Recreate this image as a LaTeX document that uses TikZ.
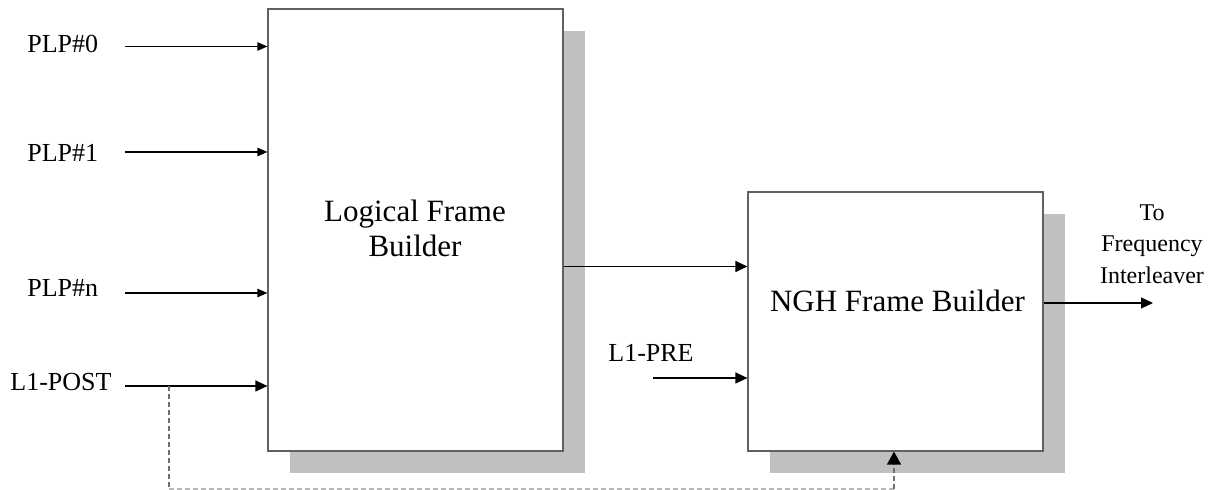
\documentclass[tikz,border=0pt]{standalone}
\usepackage{fontspec}
\setmainfont{Liberation Serif}
\usetikzlibrary{arrows.meta,shadows}
\definecolor{shadowgray}{HTML}{C0C0C0}
\definecolor{boxline}{HTML}{606060}
\definecolor{dashdark}{HTML}{707070}
\definecolor{dashlight}{HTML}{B8B8B8}
\begin{document}
\begin{tikzpicture}[x=0.5pt,y=-0.5pt,
  blockbox/.style={draw=boxline, line width=0.6pt, fill=white, inner sep=0pt,
    minimum width=147.5pt,
    drop shadow={shadow xshift=11pt, shadow yshift=-11pt, fill=shadowgray, opacity=1}},
  arr/.style={-{Triangle[length=6pt,width=5.5pt]}, line width=0.6pt, black},
  inarr/.style={-{Triangle[length=5pt,width=4.2pt]}, line width=0.6pt, black},
  lbl/.style={font=\fontsize{13}{15}\selectfont, inner sep=0pt, anchor=base west},
  bigtxt/.style={font=\fontsize{15.5}{17.5}\selectfont, inner sep=0pt, align=center},
  dashline/.style={line width=0.6pt, dash pattern=on 2.5pt off 1.5pt}
]
\useasboundingbox (0,0) rectangle (1217,490);

% blocks
\node[blockbox, minimum height=221pt] (lfb) at (415.5,230) {};
\node[blockbox, minimum height=129.5pt] (ngh) at (895.5,321.5) {};
\node[bigtxt] (lfbt) at (415,228) {Logical Frame\\Builder};
\node[bigtxt] (nght) at (897.5,301) {NGH Frame Builder};

% input labels
\node[lbl] (p0) at (27,53) {PLP\#0};
\node[lbl] (p1) at (27,162) {PLP\#1};
\node[lbl] (pn) at (27,297) {PLP\#n};
\node[lbl] (post) at (10,391) {L1-POST};
\node[lbl] (pre) at (608,362) {L1-PRE};
\node[font=\fontsize{12}{15.75}\selectfont, inner sep=0pt, align=center] (outl) at (1152,244) {To\\Frequency\\Interleaver};

% free ends
\coordinate (s0) at (125,46.5);
\coordinate (s1) at (125,152);
\coordinate (sn) at (125,293);
\coordinate (spost) at (125,386);
\coordinate (spre) at (653,378);
\coordinate (mid) at (0,266.5);
\coordinate (outy) at (0,303);
\coordinate (outend) at (1153,303);
\coordinate (tap) at (169,386);
\coordinate (dl) at (169,489);
\coordinate (dr) at (894,489);

% connectors
\draw[inarr] (s0) -- (s0 -| lfb.west);
\draw[inarr] (s1) -- (s1 -| lfb.west);
\draw[inarr] (sn) -- (sn -| lfb.west);
\draw[arr] (spost) -- (spost -| lfb.west);
\draw[arr] (mid -| lfb.east) -- (mid -| ngh.west);
\draw[arr] (spre) -- (spre -| ngh.west);
\draw[arr] (outy -| ngh.east) -- (outend);

% dashed feedback of L1-POST
\draw[dashline, draw=dashdark] (tap) -- (dl);
\draw[dashline, draw=dashlight] (dl) -- (dr);
\draw[dashline, draw=dashdark, -{Triangle[length=6.5pt,width=7pt,color=black,fill=black]}] (dr) -- (dr |- ngh.south);
\end{tikzpicture}
\end{document}
